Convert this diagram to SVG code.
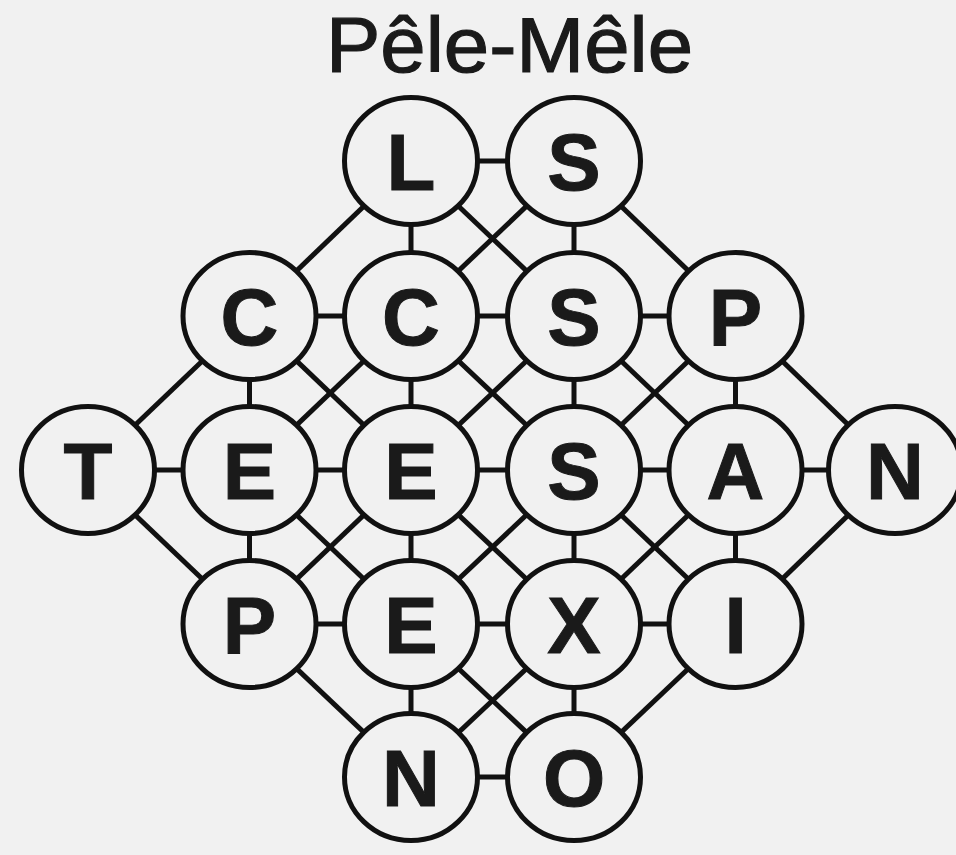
<svg xmlns="http://www.w3.org/2000/svg" width="956" height="855" viewBox="0 0 956 855">
<style>
.bg{fill:#f1f1f1}
.edge{stroke:#111;stroke-width:5;fill:none}
.node ellipse{fill:#f1f1f1;stroke:#111;stroke-width:5}
.node text{font-family:"Liberation Sans",Arial,sans-serif;font-weight:bold;font-size:80px;fill:#1a1a1a;stroke:#1a1a1a;stroke-width:1;text-anchor:middle}
.title{font-family:"Liberation Sans",Arial,sans-serif;font-size:77px;fill:#1a1a1a;stroke:#1a1a1a;stroke-width:1.2}
</style>
<rect class="bg" x="0" y="0" width="956" height="855"/>
<text class="title" x="326" y="72" textLength="367" lengthAdjust="spacingAndGlyphs">Pêle-Mêle</text>
<g id="connectors" class="edge">
<line x1="411" y1="161" x2="574" y2="161"/>
<line x1="249.5" y1="316" x2="411" y2="316"/>
<line x1="411" y1="316" x2="574" y2="316"/>
<line x1="574" y1="316" x2="735.5" y2="316"/>
<line x1="88" y1="470" x2="249.5" y2="470"/>
<line x1="249.5" y1="470" x2="411" y2="470"/>
<line x1="411" y1="470" x2="574" y2="470"/>
<line x1="574" y1="470" x2="735.5" y2="470"/>
<line x1="735.5" y1="470" x2="895" y2="470"/>
<line x1="249.5" y1="624" x2="411" y2="624"/>
<line x1="411" y1="624" x2="574" y2="624"/>
<line x1="574" y1="624" x2="735.5" y2="624"/>
<line x1="411" y1="777" x2="574" y2="777"/>
<line x1="411" y1="161" x2="411" y2="316"/>
<line x1="411" y1="316" x2="411" y2="470"/>
<line x1="411" y1="470" x2="411" y2="624"/>
<line x1="411" y1="624" x2="411" y2="777"/>
<line x1="574" y1="161" x2="574" y2="316"/>
<line x1="574" y1="316" x2="574" y2="470"/>
<line x1="574" y1="470" x2="574" y2="624"/>
<line x1="574" y1="624" x2="574" y2="777"/>
<line x1="249.5" y1="316" x2="249.5" y2="470"/>
<line x1="249.5" y1="470" x2="249.5" y2="624"/>
<line x1="735.5" y1="316" x2="735.5" y2="470"/>
<line x1="735.5" y1="470" x2="735.5" y2="624"/>
<line x1="411" y1="161" x2="249.5" y2="316"/>
<line x1="411" y1="161" x2="574" y2="316"/>
<line x1="574" y1="161" x2="411" y2="316"/>
<line x1="574" y1="161" x2="735.5" y2="316"/>
<line x1="249.5" y1="316" x2="88" y2="470"/>
<line x1="249.5" y1="316" x2="411" y2="470"/>
<line x1="411" y1="316" x2="249.5" y2="470"/>
<line x1="411" y1="316" x2="574" y2="470"/>
<line x1="574" y1="316" x2="411" y2="470"/>
<line x1="574" y1="316" x2="735.5" y2="470"/>
<line x1="735.5" y1="316" x2="574" y2="470"/>
<line x1="735.5" y1="316" x2="895" y2="470"/>
<line x1="88" y1="470" x2="249.5" y2="624"/>
<line x1="249.5" y1="470" x2="411" y2="624"/>
<line x1="411" y1="470" x2="249.5" y2="624"/>
<line x1="411" y1="470" x2="574" y2="624"/>
<line x1="574" y1="470" x2="411" y2="624"/>
<line x1="574" y1="470" x2="735.5" y2="624"/>
<line x1="735.5" y1="470" x2="574" y2="624"/>
<line x1="895" y1="470" x2="735.5" y2="624"/>
<line x1="249.5" y1="624" x2="411" y2="777"/>
<line x1="411" y1="624" x2="574" y2="777"/>
<line x1="574" y1="624" x2="411" y2="777"/>
<line x1="735.5" y1="624" x2="574" y2="777"/>
</g>
<g id="n_L" class="node"><ellipse cx="411" cy="161" rx="66.5" ry="63.5"/><text x="411" y="190">L</text></g>
<g id="n_S1" class="node"><ellipse cx="574" cy="161" rx="66.5" ry="63.5"/><text x="574" y="190">S</text></g>
<g id="n_C1" class="node"><ellipse cx="249.5" cy="316" rx="66.5" ry="63.5"/><text x="249.5" y="345">C</text></g>
<g id="n_C2" class="node"><ellipse cx="411" cy="316" rx="66.5" ry="63.5"/><text x="411" y="345">C</text></g>
<g id="n_S2" class="node"><ellipse cx="574" cy="316" rx="66.5" ry="63.5"/><text x="574" y="345">S</text></g>
<g id="n_P1" class="node"><ellipse cx="735.5" cy="316" rx="66.5" ry="63.5"/><text x="735.5" y="345">P</text></g>
<g id="n_T" class="node"><ellipse cx="88" cy="470" rx="66.5" ry="63.5"/><text x="88" y="499">T</text></g>
<g id="n_E1" class="node"><ellipse cx="249.5" cy="470" rx="66.5" ry="63.5"/><text x="249.5" y="499">E</text></g>
<g id="n_E2" class="node"><ellipse cx="411" cy="470" rx="66.5" ry="63.5"/><text x="411" y="499">E</text></g>
<g id="n_S3" class="node"><ellipse cx="574" cy="470" rx="66.5" ry="63.5"/><text x="574" y="499">S</text></g>
<g id="n_A" class="node"><ellipse cx="735.5" cy="470" rx="66.5" ry="63.5"/><text x="735.5" y="499">A</text></g>
<g id="n_N1" class="node"><ellipse cx="895" cy="470" rx="66.5" ry="63.5"/><text x="895" y="499">N</text></g>
<g id="n_P2" class="node"><ellipse cx="249.5" cy="624" rx="66.5" ry="63.5"/><text x="249.5" y="653">P</text></g>
<g id="n_E3" class="node"><ellipse cx="411" cy="624" rx="66.5" ry="63.5"/><text x="411" y="653">E</text></g>
<g id="n_X" class="node"><ellipse cx="574" cy="624" rx="66.5" ry="63.5"/><text x="574" y="653">X</text></g>
<g id="n_I" class="node"><ellipse cx="735.5" cy="624" rx="66.5" ry="63.5"/><text x="735.5" y="653">I</text></g>
<g id="n_N2" class="node"><ellipse cx="411" cy="777" rx="66.5" ry="63.5"/><text x="411" y="806">N</text></g>
<g id="n_O" class="node"><ellipse cx="574" cy="777" rx="66.5" ry="63.5"/><text x="574" y="806">O</text></g>
</svg>
